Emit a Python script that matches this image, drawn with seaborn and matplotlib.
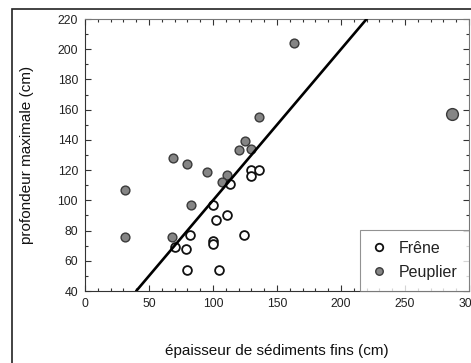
import matplotlib
matplotlib.use("Agg")
import matplotlib.pyplot as plt
from matplotlib.lines import Line2D
from matplotlib.patches import Rectangle
from matplotlib.ticker import MultipleLocator
import seaborn as sns
import pandas as pd

# ---- data ----
frene_x = [100, 102, 111, 82, 70, 79, 100, 100, 80, 105, 130, 136, 130, 113, 124]
frene_y = [97, 87, 90, 77, 69, 68, 73, 71, 54, 54, 120, 120, 116, 111, 77]
peuplier_x = [31, 31, 69, 80, 95, 111, 107, 83, 68, 136, 125, 120, 130, 163]
peuplier_y = [107, 76, 128, 124, 119, 117, 112, 97, 76, 155, 139, 133, 134, 204]
outlier_x = [287]
outlier_y = [157]
line_x = [40, 221]
line_y = [40, 221]
series_labels = ["Frêne", "Peuplier"]
x_label = "épaisseur de sédiments fins (cm)"
y_label = "profondeur maximale (cm)"

sns.set_theme(style="white")
plt.rcParams["font.family"] = ["Liberation Sans", "DejaVu Sans"]

W, H = 471, 363
fig = plt.figure(figsize=(W / 100, H / 100), dpi=100)
ax = fig.add_axes([85 / W, 1 - 291 / H, (469 - 85) / W, (291 - 19) / H])

df_f = pd.DataFrame({"x": frene_x, "y": frene_y})
df_p = pd.DataFrame({"x": peuplier_x, "y": peuplier_y})
df_o = pd.DataFrame({"x": outlier_x, "y": outlier_y})
df_l = pd.DataFrame({"x": line_x, "y": line_y})

sns.scatterplot(data=df_p, x="x", y="y", ax=ax, s=40, color="#858585",
                edgecolor="#3a3a3a", linewidth=1.0, zorder=3, legend=False)
sns.scatterplot(data=df_o, x="x", y="y", ax=ax, s=72, color="#858585",
                edgecolor="#3a3a3a", linewidth=1.0, zorder=3, legend=False)
sns.scatterplot(data=df_f, x="x", y="y", ax=ax, s=40, facecolor="white",
                edgecolor="#111111", linewidth=1.3, zorder=4, legend=False)
sns.lineplot(data=df_l, x="x", y="y", ax=ax, color="black", linewidth=1.9,
             zorder=5, legend=False)

ax.set_xlim(0, 300)
ax.set_ylim(40, 220)
ax.xaxis.set_major_locator(MultipleLocator(50))
ax.xaxis.set_minor_locator(MultipleLocator(10))
ax.yaxis.set_major_locator(MultipleLocator(20))
ax.yaxis.set_minor_locator(MultipleLocator(10))
ax.tick_params(which="both", direction="in", top=True, right=True,
               bottom=True, left=True, colors="#333333", width=0.8)
ax.tick_params(which="major", length=4, labelsize=8.8, pad=5,
               labelcolor="#222222")
ax.tick_params(which="minor", length=2.2)
for side, sp in ax.spines.items():
    sp.set_linewidth(0.8)
    sp.set_color("#333333" if side in ("left", "bottom") else "#777777")

ax.set_xlabel(x_label, fontsize=11, color="#111111")
ax.set_ylabel(y_label, fontsize=11, color="#111111")
ax.xaxis.set_label_coords(0.5, -0.195)
ax.yaxis.set_label_coords(-0.132, 0.5)

handles = [
    Line2D([], [], linestyle="none", marker="o", markersize=5.4,
           markerfacecolor="white", markeredgecolor="#111111", markeredgewidth=1.3),
    Line2D([], [], linestyle="none", marker="o", markersize=5.4,
           markerfacecolor="#858585", markeredgecolor="#3a3a3a", markeredgewidth=1.0),
]
leg = ax.legend(handles, series_labels, loc="lower right", bbox_to_anchor=(1, 0),
                borderaxespad=0, fontsize=11.5, frameon=True, fancybox=False,
                shadow=False, borderpad=0.7, handlelength=1.0, handletextpad=0.75,
                labelspacing=0.55)
leg.get_frame().set_edgecolor("#777777")
leg.get_frame().set_linewidth(0.8)
for t in leg.get_texts():
    t.set_color("#222222")

# outer frame (cut at right and bottom like the reference)
fig.patches.append(Rectangle((12 / W, -0.2), 1.5, 1.2 - 9 / H,
                             transform=fig.transFigure, fill=False,
                             edgecolor="#222222", linewidth=1.2))

fig.savefig("out.png", dpi=100)
